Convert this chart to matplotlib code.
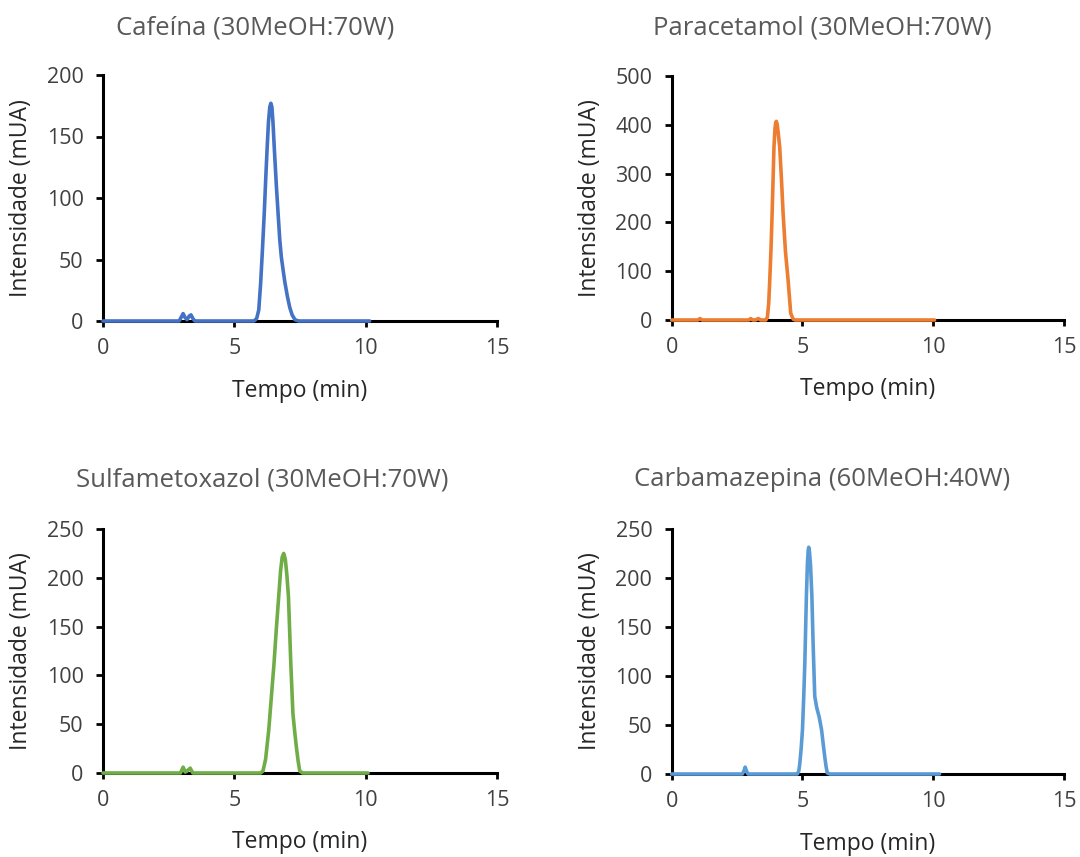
import matplotlib
matplotlib.use("Agg")
import matplotlib.pyplot as plt

plt.rcParams['font.family'] = ['Open Sans', 'DejaVu Sans']

# ---------------- data ----------------
caf_t = [0, 2.9, 3.0, 3.05, 3.12, 3.2, 3.28, 3.35, 3.42, 3.5, 5.75, 5.85, 5.93, 6.0, 6.07,
         6.14, 6.2, 6.25, 6.3, 6.35, 6.39, 6.43, 6.47, 6.52, 6.6, 6.67, 6.73, 6.79, 6.86,
         6.92, 7.02, 7.11, 7.2, 7.31, 7.45, 10.15]
caf_i = [0, 0, 4, 6, 3, 1, 4, 5, 2, 0, 0, 2, 9, 30, 58, 88, 118, 141, 162, 174, 177, 174,
         162, 141, 110, 86, 66, 52, 41, 32, 20, 11, 5, 1, 0, 0]

par_t = [0, 1.0, 1.08, 1.16, 2.95, 3.02, 3.1, 3.2, 3.31, 3.4, 3.6, 3.66, 3.71, 3.75, 3.8,
         3.84, 3.91, 3.95, 3.98, 4.0, 4.03, 4.07, 4.13, 4.2, 4.26, 4.35, 4.45, 4.55, 4.64,
         4.72, 10.05]
par_i = [0, 0, 3, 0, 0, 3, 0, 0, 3, 0, 0, 6, 35, 82, 150, 218, 354, 393, 405, 407, 402,
         385, 354, 285, 218, 140, 82, 14, 2, 0, 0]

sul_t = [0, 2.95, 3.05, 3.13, 3.2, 3.32, 3.42, 6.0, 6.09, 6.19, 6.31, 6.41, 6.51, 6.6,
         6.69, 6.76, 6.82, 6.88, 6.94, 7.0, 7.06, 7.15, 7.23, 7.3, 7.36, 7.43, 7.49, 7.6,
         10.09]
sul_i = [0, 0, 6, 1, 2, 5, 0, 0, 2, 14, 44, 78, 112, 148, 181, 207, 221, 225, 219, 203,
         181, 112, 61, 42, 27, 12, 2, 0, 0]

car_t = [0, 2.7, 2.76, 2.81, 2.86, 2.92, 4.8, 4.86, 4.9, 4.95, 5.0, 5.05, 5.09, 5.15,
         5.19, 5.22, 5.24, 5.27, 5.31, 5.36, 5.41, 5.47, 5.55, 5.64, 5.73, 5.8, 5.85, 5.9,
         5.95, 6.05, 10.24]
car_i = [0, 0, 3, 7, 3, 0, 0, 3, 11, 26, 45, 80, 113, 181, 215, 228, 231, 226, 212, 181,
         130, 79, 67, 58, 45, 29, 18, 8, 1, 0, 0]

titles = ["Cafeína (30MeOH:70W)", "Paracetamol (30MeOH:70W)",
          "Sulfametoxazol (30MeOH:70W)", "Carbamazepina (60MeOH:40W)"]
y_max = [200, 500, 250, 250]
y_step = [50, 100, 50, 50]
colors = ["#4472C4", "#ED7D31", "#70AD47", "#5B9BD5"]

# ---------------- figure ----------------
W, H = 1080, 857
fig = plt.figure(figsize=(W / 100, H / 100), dpi=100)

# axes boxes in pixels: left, bottom(y of zero), right, top
boxes = [(103, 321, 497, 75), (671.7, 320, 1064, 76),
         (103, 773, 497, 529), (671.7, 774, 1064, 528.6)]
title_pos = [(255, 28), (822, 28), (262, 480), (822, 480)]
series = [(caf_t, caf_i), (par_t, par_i), (sul_t, sul_i), (car_t, car_i)]

for k in range(4):
    l, b, r, t = boxes[k]
    ax = fig.add_axes([l / W, 1 - b / H, (r - l) / W, (b - t) / H])
    tt, ii = series[k]
    ax.plot(tt, ii, color=colors[k], lw=2.6, solid_joinstyle='round',
            solid_capstyle='round', zorder=5, clip_on=False)

    ax.set_xlim(0, 15)
    ax.set_ylim(0, y_max[k])
    ax.set_xticks([0, 5, 10, 15])
    ax.set_yticks(range(0, y_max[k] + 1, y_step[k]))

    for side in ["top", "right"]:
        ax.spines[side].set_visible(False)
    for side in ["left", "bottom"]:
        ax.spines[side].set_linewidth(2.2)
        ax.spines[side].set_color("black")

    ax.tick_params(axis='y', direction='out', length=5, width=2, pad=9,
                   labelsize=15.5, labelcolor="#404040")
    ax.tick_params(axis='x', direction='out', length=4.5, width=2, pad=8,
                   labelsize=15.5, labelcolor="#404040")

    ax.set_xlabel("Tempo (min)", fontsize=16.5, color="#262626")
    ax.xaxis.set_label_coords(0.5, -0.235)
    ax.set_ylabel("Intensidade (mUA)", fontsize=16.5, color="#262626")
    ax.yaxis.set_label_coords(-0.178, 0.5)

    tx, ty = title_pos[k]
    fig.text(tx / W, 1 - ty / H, titles[k], fontsize=18.5, color="#595959",
             ha="center", va="center")

fig.savefig("out.png", dpi=100)
